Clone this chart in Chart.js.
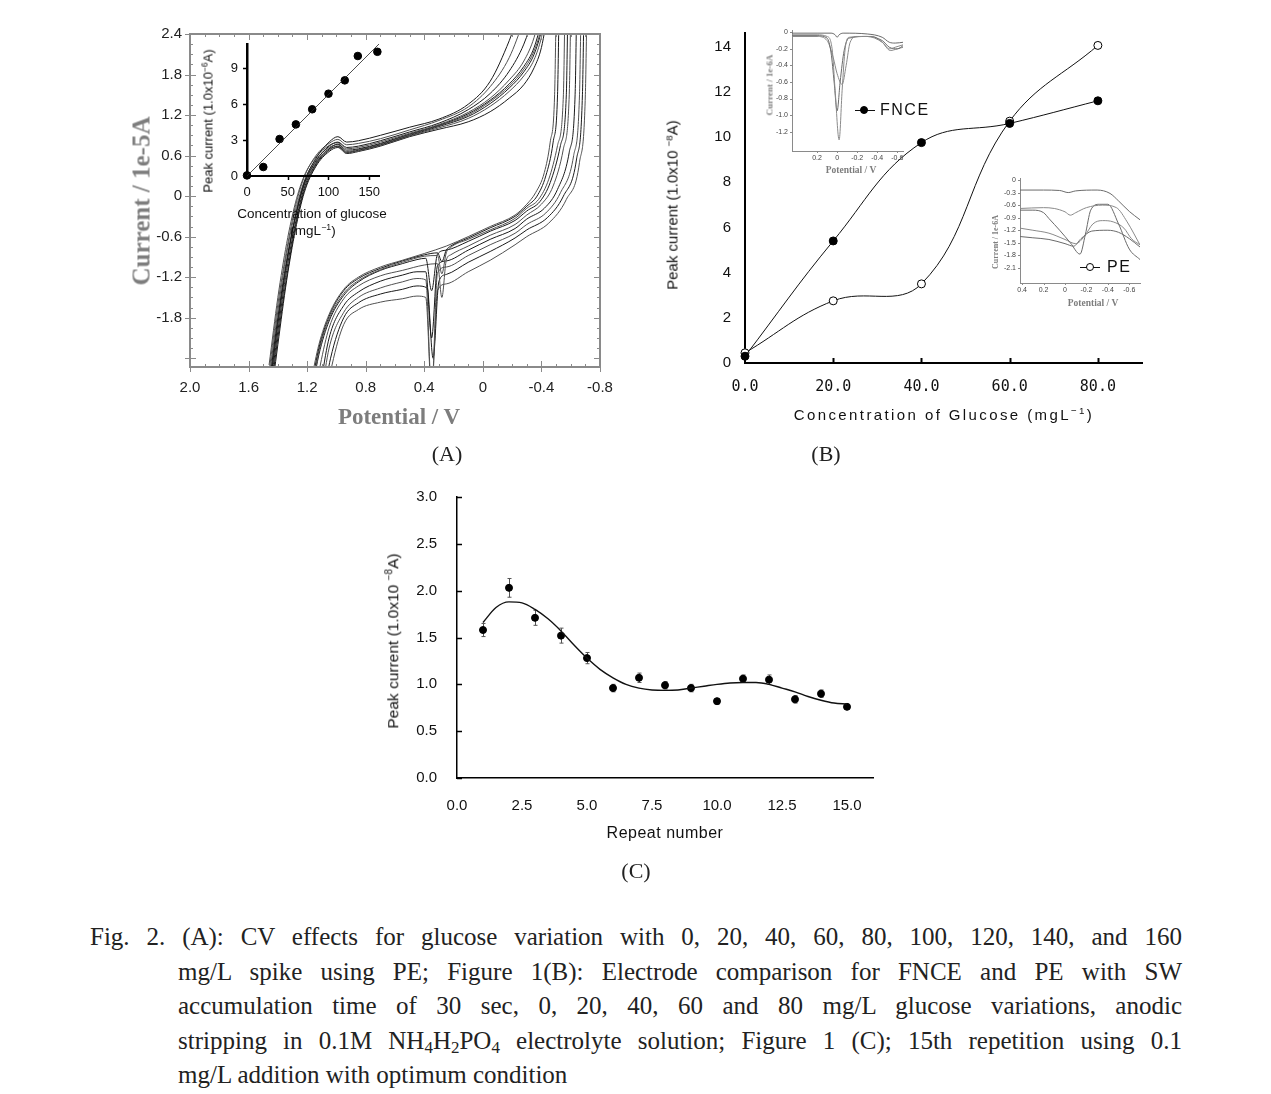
<!DOCTYPE html>
<html>
<head>
<meta charset="utf-8">
<script src="https://cdn.jsdelivr.net/npm/chart.js@4.4.0/dist/chart.umd.min.js"></script>
<style>
body { margin: 0; background: #fff; }
#page { position: relative; width: 1271px; height: 1094px; overflow: hidden; font-family: "Liberation Sans", Arial, sans-serif; color: #111; }
canvas { position: absolute; }
.t { position: absolute; white-space: nowrap; transform: translate(-50%, -50%); line-height: 1; }
.rot { transform: translate(-50%, -50%) rotate(-90deg); }
.ser { font-family: "Liberation Serif", "DejaVu Serif", serif; }
.gray { color: #7d7d7d; font-weight: bold; }
sup { font-size: 0.65em; vertical-align: 0.55em; line-height: 0; }
sub { font-size: 0.68em; vertical-align: -0.25em; line-height: 0; }
.lgLine { position: absolute; height: 0; border-top: 1px solid #111; }
.lgDot { position: absolute; width: 8px; height: 8px; border-radius: 50%; border: 1px solid #000; box-sizing: border-box; }
.lgText { position: absolute; font-size: 16px; letter-spacing: 1.5px; transform: translateY(-50%); line-height: 1; }
#cap { position: absolute; left: 90px; top: 920px; width: 1092px; font-family: "Liberation Serif", "DejaVu Serif", serif; font-size: 25px; line-height: 34.5px; color: #222; }
.ln { text-align: justify; text-align-last: justify; }
.ind { padding-left: 88px; }
.last { text-align-last: left; }
</style>
</head>
<body>
<div id="page">
  <canvas id="chartA" width="520" height="420" style="left:110px;top:10px"></canvas>
  <canvas id="chartAin" width="215" height="180" style="left:180px;top:26px"></canvas>
  <canvas id="chartB" width="510" height="422" style="left:660px;top:8px"></canvas>
  <canvas id="chartBf" width="160" height="150" style="left:750px;top:18px"></canvas>
  <canvas id="chartBp" width="170" height="130" style="left:980px;top:166px"></canvas>
  <canvas id="chartC" width="525" height="375" style="left:370px;top:465px"></canvas>

  <!-- panel A titles -->
  <div class="t rot ser gray" style="left:141px;top:201px;font-size:25px">Current / 1e-5A</div>
  <div class="t ser gray" style="left:399px;top:416px;font-size:23px">Potential / V</div>
  <div class="t rot" style="left:208px;top:121px;font-size:13px">Peak current (1.0x10<sup>−6</sup>A)</div>
  <div class="t" style="left:312px;top:214px;font-size:13.5px">Concentration of glucose</div>
  <div class="t" style="left:313px;top:231px;font-size:13.5px">(mgL<sup>−1</sup>)</div>

  <!-- panel B titles -->
  <div class="t rot" style="left:672px;top:205px;font-size:15px">Peak current (1.0x10 <sup>−8</sup>A)</div>
  <div class="t" style="left:944px;top:414px;font-size:15px;letter-spacing:2.4px">Concentration of Glucose (mgL<sup>−1</sup>)</div>
  <div class="t rot ser gray" style="left:770px;top:85px;font-size:9px">Current / 1e-6A</div>
  <div class="t ser gray" style="left:851px;top:171px;font-size:9.5px">Potential / V</div>
  <div class="t rot ser gray" style="left:996px;top:242px;font-size:8px">Current / 1e-6A</div>
  <div class="t ser gray" style="left:1093px;top:304px;font-size:9.5px">Potential / V</div>

  <!-- panel B legends -->
  <div class="lgLine" style="left:855px;top:110px;width:20px"></div>
  <div class="lgDot" style="left:860px;top:106px;background:#000"></div>
  <div class="lgText" style="left:880px;top:110px">FNCE</div>
  <div class="lgLine" style="left:1080px;top:267px;width:20px"></div>
  <div class="lgDot" style="left:1086px;top:263px;background:#fff"></div>
  <div class="lgText" style="left:1107px;top:267px">PE</div>

  <!-- panel C titles -->
  <div class="t rot" style="left:393px;top:641px;font-size:15.5px">Peak current (1.0x10 <sup>−8</sup>A)</div>
  <div class="t" style="left:665px;top:833px;font-size:16px;letter-spacing:0.5px">Repeat number</div>

  <!-- panel labels -->
  <div class="t ser" style="left:447px;top:454px;font-size:22px;color:#222">(A)</div>
  <div class="t ser" style="left:826px;top:454px;font-size:22px;color:#222">(B)</div>
  <div class="t ser" style="left:636px;top:871px;font-size:22px;color:#222">(C)</div>

  <div id="cap">
    <div class="ln">Fig. 2. (A): CV effects for glucose variation with 0, 20, 40, 60, 80, 100, 120, 140, and 160</div>
    <div class="ln ind">mg/L spike using PE; Figure 1(B): Electrode comparison for FNCE and PE with SW</div>
    <div class="ln ind">accumulation time of 30 sec, 0, 20, 40, 60 and 80 mg/L glucose variations, anodic</div>
    <div class="ln ind">stripping in 0.1M NH<sub>4</sub>H<sub>2</sub>PO<sub>4</sub> electrolyte solution; Figure 1 (C); 15th repetition using 0.1</div>
    <div class="ln ind last">mg/L addition with optimum condition</div>
  </div>
</div>

<script>
// ---------- panel A: cyclic voltammograms (V, 1e-5 A) ----------
// anodic branches share one potential grid
const cvUpV = [1.46, 1.40, 1.34, 1.28, 1.22, 1.14, 1.05, 0.99, 0.93, 0.85, 0.70, 0.50, 0.30, 0.10, -0.05, -0.18, -0.28, -0.35, -0.40, -0.45];
const cvUp0 = [-2.9, -1.9, -1.0, -0.30, 0.20, 0.56, 0.80, 0.88, 0.80, 0.82, 0.90, 1.02, 1.14, 1.36, 1.70, 2.30, 2.9, 3.2, 3.4, 3.6];
const cvUp1 = [-2.6, -1.6, -0.8, -0.15, 0.28, 0.60, 0.78, 0.84, 0.76, 0.78, 0.85, 0.98, 1.12, 1.32, 1.62, 2.05, 2.6, 3.0, 3.3, 3.5];
const cvUp2 = [-2.8, -1.8, -0.95, -0.30, 0.18, 0.52, 0.74, 0.80, 0.72, 0.74, 0.82, 0.95, 1.08, 1.28, 1.52, 1.85, 2.25, 2.7, 3.1, 3.4];
const cvUp3 = [-2.5, -1.5, -0.7, -0.10, 0.30, 0.58, 0.75, 0.79, 0.70, 0.72, 0.80, 0.93, 1.06, 1.24, 1.45, 1.72, 2.0, 2.35, 2.8, 3.3];
const cvUp4 = [-3.0, -2.0, -1.1, -0.40, 0.12, 0.48, 0.70, 0.77, 0.68, 0.70, 0.78, 0.92, 1.05, 1.22, 1.42, 1.66, 1.92, 2.2, 2.6, 3.2];
const cvUp5 = [-2.7, -1.7, -0.85, -0.22, 0.22, 0.54, 0.72, 0.76, 0.66, 0.69, 0.77, 0.91, 1.04, 1.20, 1.40, 1.63, 1.88, 2.15, 2.5, 3.1];
const cvUp6 = [-3.1, -2.1, -1.2, -0.45, 0.08, 0.46, 0.68, 0.74, 0.65, 0.68, 0.76, 0.90, 1.03, 1.18, 1.37, 1.60, 1.84, 2.1, 2.45, 3.0];
const cvUp7 = [-2.9, -1.85, -1.0, -0.32, 0.16, 0.50, 0.70, 0.73, 0.64, 0.67, 0.75, 0.89, 1.01, 1.15, 1.33, 1.55, 1.78, 2.02, 2.35, 2.9];
const cvUp8 = [-3.2, -2.2, -1.25, -0.5, 0.05, 0.44, 0.66, 0.72, 0.63, 0.66, 0.74, 0.88, 0.99, 1.10, 1.25, 1.45, 1.65, 1.9, 2.2, 2.8];

// cathodic branches as [potential, current] pairs (dips differ per curve)
const cvDown0 = [[-0.50, 2.7], [-0.49, 1.5], [-0.46, 0.8], [-0.42, 0.35], [-0.36, 0.05], [-0.30, -0.12], [-0.22, -0.28], [-0.05, -0.45], [0.10, -0.60], [0.25, -0.74], [0.40, -0.85], [0.55, -0.95], [0.70, -1.05], [0.85, -1.20], [0.95, -1.38], [1.05, -1.75], [1.12, -2.2], [1.17, -2.7]];
const cvDown1 = [[-0.52, 2.7], [-0.51, 1.5], [-0.48, 0.8], [-0.43, 0.3], [-0.37, 0.0], [-0.30, -0.15], [-0.22, -0.30], [-0.05, -0.47], [0.10, -0.62], [0.22, -0.74], [0.25, -0.80], [0.28, -0.97], [0.31, -0.84], [0.40, -0.87], [0.55, -0.96], [0.70, -1.07], [0.85, -1.22], [0.95, -1.40], [1.05, -1.78], [1.12, -2.25], [1.17, -2.8]];
const cvDown2 = [[-0.56, 2.7], [-0.55, 1.5], [-0.51, 0.75], [-0.45, 0.25], [-0.38, -0.05], [-0.30, -0.18], [-0.22, -0.33], [-0.05, -0.50], [0.10, -0.64], [0.22, -0.76], [0.25, -0.84], [0.28, -1.15], [0.31, -0.88], [0.40, -0.89], [0.55, -0.98], [0.70, -1.09], [0.85, -1.25], [0.95, -1.44], [1.05, -1.82], [1.12, -2.3], [1.16, -2.8]];
const cvDown3 = [[-0.58, 2.7], [-0.57, 1.5], [-0.53, 0.75], [-0.46, 0.2], [-0.39, -0.08], [-0.30, -0.22], [-0.22, -0.36], [-0.05, -0.52], [0.10, -0.67], [0.25, -0.80], [0.31, -0.86], [0.35, -1.40], [0.39, -0.92], [0.45, -0.94], [0.55, -1.00], [0.70, -1.10], [0.85, -1.27], [0.95, -1.47], [1.05, -1.85], [1.12, -2.35], [1.16, -2.8]];
const cvDown4 = [[-0.60, 2.7], [-0.59, 1.5], [-0.55, 0.7], [-0.48, 0.15], [-0.40, -0.12], [-0.30, -0.28], [-0.22, -0.42], [-0.05, -0.58], [0.10, -0.74], [0.22, -0.87], [0.25, -0.95], [0.28, -1.50], [0.31, -1.0], [0.40, -1.02], [0.55, -1.10], [0.70, -1.18], [0.85, -1.33], [0.95, -1.52], [1.05, -1.95], [1.11, -2.5], [1.15, -3.0]];
const cvDown5 = [[-0.64, 2.7], [-0.63, 1.5], [-0.59, 0.65], [-0.51, 0.1], [-0.42, -0.18], [-0.30, -0.34], [-0.22, -0.48], [-0.05, -0.64], [0.10, -0.80], [0.25, -0.96], [0.31, -1.03], [0.35, -2.10], [0.39, -1.12], [0.45, -1.12], [0.55, -1.17], [0.70, -1.26], [0.85, -1.42], [0.95, -1.62], [1.05, -2.1], [1.10, -2.7], [1.13, -3.2]];
const cvDown6 = [[-0.67, 2.7], [-0.66, 1.5], [-0.62, 0.6], [-0.53, 0.05], [-0.43, -0.25], [-0.30, -0.42], [-0.22, -0.55], [-0.05, -0.72], [0.10, -0.88], [0.25, -1.05], [0.31, -1.14], [0.35, -2.9], [0.39, -1.24], [0.45, -1.22], [0.55, -1.27], [0.70, -1.36], [0.85, -1.50], [0.95, -1.72], [1.05, -2.25], [1.10, -2.9], [1.13, -3.3]];
const cvDown7 = [[-0.69, 2.7], [-0.68, 1.5], [-0.64, 0.55], [-0.55, 0.0], [-0.44, -0.32], [-0.30, -0.5], [-0.22, -0.62], [-0.05, -0.82], [0.10, -0.98], [0.25, -1.16], [0.30, -1.26], [0.34, -2.4], [0.38, -1.36], [0.45, -1.33], [0.55, -1.38], [0.70, -1.45], [0.85, -1.58], [0.95, -1.80], [1.04, -2.4], [1.09, -3.0], [1.12, -3.4]];
const cvDown8 = [[-0.71, 2.7], [-0.70, 1.5], [-0.66, 0.5], [-0.57, -0.05], [-0.45, -0.4], [-0.30, -0.6], [-0.22, -0.72], [-0.05, -0.95], [0.10, -1.12], [0.25, -1.30], [0.31, -1.40], [0.35, -2.9], [0.39, -1.50], [0.45, -1.48], [0.55, -1.52], [0.70, -1.57], [0.85, -1.68], [0.95, -1.90], [1.03, -2.5], [1.08, -3.1], [1.11, -3.5]];

const cvUp = [cvUp0, cvUp1, cvUp2, cvUp3, cvUp4, cvUp5, cvUp6, cvUp7, cvUp8];
const cvDown = [cvDown0, cvDown1, cvDown2, cvDown3, cvDown4, cvDown5, cvDown6, cvDown7, cvDown8];

const aXTicks = [2.0, 1.6, 1.2, 0.8, 0.4, 0, -0.4, -0.8];
const aXLabels = ['2.0', '1.6', '1.2', '0.8', '0.4', '0', '-0.4', '-0.8'];
const aYTicks = [2.4, 1.8, 1.2, 0.6, 0, -0.6, -1.2, -1.8];
const aYLabels = ['2.4', '1.8', '1.2', '0.6', '0', '-0.6', '-1.2', '-1.8'];

// inset of A: peak current vs glucose
const insetConc = [0, 20, 40, 60, 80, 100, 120, 136, 160];
const insetPeak = [0.05, 0.75, 3.08, 4.3, 5.56, 6.86, 7.97, 10.0, 10.35];
const insetFitX = [0, 162];
const insetFitY = [0, 11.0];
const insetXTicks = [0, 50, 100, 150];
const insetYTicks = [0, 3, 6, 9];

// ---------- panel B ----------
const concB = [0, 20, 40, 60, 80];
const fnce = [0.3, 5.4, 9.75, 10.6, 11.6];
const pe = [0.45, 2.75, 3.5, 10.7, 14.05];
const bXTicks = [0, 20, 40, 60, 80];
const bXLabels = ['0.0', '20.0', '40.0', '60.0', '80.0'];
const bYTicks = [0, 2, 4, 6, 8, 10, 12, 14];

// square-wave insets of B
const fnceSw1 = [[0.45, -0.01], [0.2, -0.01], [0.06, -0.01], [0.02, -0.03], [0.0, -0.06], [-0.02, -0.03], [-0.06, -0.01], [-0.3, -0.02], [-0.45, -0.06], [-0.52, -0.12], [-0.58, -0.13], [-0.66, -0.12]];
const fnceSw2 = [[0.45, -0.03], [0.2, -0.03], [0.1, -0.05], [0.05, -0.2], [0.02, -0.7], [-0.02, -1.3], [-0.05, -0.7], [-0.08, -0.2], [-0.12, -0.06], [-0.3, -0.05], [-0.45, -0.12], [-0.52, -0.2], [-0.58, -0.18], [-0.66, -0.15]];
const fnceSw3 = [[0.45, -0.04], [0.2, -0.04], [0.1, -0.07], [0.06, -0.25], [0.03, -0.6], [0.0, -0.95], [-0.03, -0.6], [-0.07, -0.22], [-0.12, -0.07], [-0.3, -0.05], [-0.45, -0.1], [-0.52, -0.18], [-0.6, -0.2], [-0.66, -0.16]];
const fnceSw4 = [[0.45, -0.05], [0.2, -0.05], [0.1, -0.1], [0.04, -0.3], [0.0, -0.5], [-0.05, -0.63], [-0.09, -0.4], [-0.13, -0.12], [-0.2, -0.05], [-0.35, -0.05], [-0.45, -0.12], [-0.53, -0.22], [-0.6, -0.2], [-0.66, -0.18]];
const fnceSwX = [0.2, 0, -0.2, -0.4, -0.6];
const fnceSwXLabels = ['0.2', '0', '-0.2', '-0.4', '-0.6'];
const fnceSwY = [0, -0.2, -0.4, -0.6, -0.8, -1.0, -1.2];
const fnceSwYLabels = ['0', '-0.2', '-0.4', '-0.6', '-0.8', '-1.0', '-1.2'];

const peSw1 = [[0.42, -0.24], [0.2, -0.24], [0.05, -0.25], [-0.03, -0.3], [-0.1, -0.26], [-0.3, -0.24], [-0.42, -0.32], [-0.5, -0.5], [-0.6, -0.75], [-0.7, -0.95]];
const peSw2 = [[0.42, -0.68], [0.2, -0.66], [0.1, -0.68], [0.0, -0.76], [-0.05, -0.84], [-0.1, -0.78], [-0.2, -0.66], [-0.35, -0.6], [-0.48, -0.66], [-0.58, -1.0], [-0.7, -1.55]];
const peSw3 = [[0.42, -0.72], [0.3, -0.72], [0.2, -0.78], [0.15, -0.92], [0.05, -1.2], [-0.05, -1.5], [-0.14, -1.77], [-0.19, -1.3], [-0.24, -0.72], [-0.32, -0.58], [-0.4, -0.58], [-0.5, -1.05], [-0.6, -1.65], [-0.7, -1.9]];
const peSw4 = [[0.42, -1.15], [0.3, -1.2], [0.15, -1.27], [0.0, -1.42], [-0.1, -1.52], [-0.18, -1.35], [-0.26, -1.05], [-0.35, -0.97], [-0.45, -1.0], [-0.55, -1.15], [-0.62, -1.4], [-0.7, -1.55]];
const peSw5 = [[0.42, -1.35], [0.3, -1.38], [0.15, -1.42], [0.0, -1.52], [-0.08, -1.58], [-0.15, -1.4], [-0.25, -1.22], [-0.4, -1.2], [-0.5, -1.25], [-0.6, -1.4], [-0.7, -1.6]];
const peSwX = [0.4, 0.2, 0, -0.2, -0.4, -0.6];
const peSwXLabels = ['0.4', '0.2', '0', '-0.2', '-0.4', '-0.6'];
const peSwY = [0, -0.3, -0.6, -0.9, -1.2, -1.5, -1.8, -2.1];
const peSwYLabels = ['0', '-0.3', '-0.6', '-0.9', '-1.2', '-1.5', '-1.8', '-2.1'];

// ---------- panel C ----------
const repeatNum = [1, 2, 3, 4, 5, 6, 7, 8, 9, 10, 11, 12, 13, 14, 15];
const peakC = [1.58, 2.03, 1.71, 1.52, 1.28, 0.96, 1.07, 0.99, 0.96, 0.82, 1.06, 1.05, 0.84, 0.90, 0.76];
const errC = [0.07, 0.10, 0.08, 0.08, 0.06, 0.04, 0.05, 0.04, 0.04, 0.03, 0.04, 0.05, 0.04, 0.04, 0.02];
const fitCX = [1, 1.5, 2, 2.5, 3, 3.5, 4, 4.5, 5, 5.5, 6, 6.5, 7, 7.5, 8, 8.5, 9, 9.5, 10, 10.5, 11, 11.5, 12, 12.5, 13, 13.5, 14, 14.5, 15];
const fitCY = [1.66, 1.82, 1.88, 1.87, 1.80, 1.70, 1.57, 1.42, 1.28, 1.16, 1.07, 1.00, 0.96, 0.94, 0.935, 0.94, 0.96, 0.98, 1.0, 1.015, 1.02, 1.02, 1.0, 0.96, 0.92, 0.87, 0.83, 0.80, 0.79];
const cXTicks = [0, 2.5, 5, 7.5, 10, 12.5, 15];
const cXLabels = ['0.0', '2.5', '5.0', '7.5', '10.0', '12.5', '15.0'];
const cYTicks = [0, 0.5, 1, 1.5, 2, 2.5, 3];
const cYLabels = ['0.0', '0.5', '1.0', '1.5', '2.0', '2.5', '3.0'];


Chart.defaults.animation = false;
Chart.defaults.plugins.legend.display = false;
Chart.defaults.plugins.tooltip.enabled = false;
Chart.defaults.color = '#111';
Chart.defaults.font.family = '"Liberation Sans", Arial, sans-serif';

// helpers
function fixedTicks(values) {
    return scale => { scale.ticks = values.map(v => ({ value: v })); };
}
function labelsFrom(labels) {
    return (value, i) => labels[i];
}
function pairs(list) {
    return list.map(p => ({ x: p[0], y: p[1] }));
}
function zip(xs, ys) {
    return xs.map((x, i) => ({ x: x, y: ys[i] }));
}
function seg(ctx, x1, y1, x2, y2) {
    ctx.beginPath();
    ctx.moveTo(x1, y1);
    ctx.lineTo(x2, y2);
    ctx.stroke();
}

// small tick marks drawn through the scales; len > 0 points into the plot
const axisTicks = {
    id: 'axisTicks',
    afterDraw(chart, args, opts) {
        if (!opts || !opts.color) return;
        const { ctx, chartArea: a, scales } = chart;
        ctx.save();
        ctx.strokeStyle = opts.color;
        ctx.lineWidth = opts.width || 1;
        (opts.x || []).forEach(v => {
            const px = Math.round(scales.x.getPixelForValue(v)) + 0.5;
            seg(ctx, px, a.bottom, px, a.bottom - opts.len);
        });
        (opts.y || []).forEach(v => {
            const py = Math.round(scales.y.getPixelForValue(v)) + 0.5;
            seg(ctx, a.left, py, a.left + opts.len, py);
        });
        ctx.restore();
    }
};
Chart.register(axisTicks);

// full frame with major and minor ticks for the CV plot
const cvFrame = {
    id: 'cvFrame',
    afterDraw(chart) {
        const { ctx, chartArea: a, scales: { x, y } } = chart;
        ctx.save();
        ctx.strokeStyle = '#8a8a8a';
        ctx.lineWidth = 1;
        for (let k = -8; k <= 20; k++) {
            const px = Math.round(x.getPixelForValue(k / 10)) + 0.5;
            const major = k % 4 === 0;
            const len = major ? 6 : 3;
            seg(ctx, px, a.bottom, px, a.bottom - len);
            seg(ctx, px, a.top, px, a.top + len);
            if (major) seg(ctx, px, a.bottom, px, a.bottom + 5);
        }
        for (let k = -16; k <= 16; k++) {
            const py = Math.round(y.getPixelForValue(k * 0.15)) + 0.5;
            const major = k % 4 === 0;
            const len = major ? 6 : 3;
            seg(ctx, a.left, py, a.left + len, py);
            seg(ctx, a.right, py, a.right - len, py);
            if (major) seg(ctx, a.left - 5, py, a.left, py);
        }
        ctx.lineWidth = 2;
        ctx.strokeRect(a.left, a.top, a.right - a.left, a.bottom - a.top);
        ctx.restore();
    }
};

// error bars for panel C
const errorBars = {
    id: 'errorBars',
    beforeDatasetsDraw(chart) {
        const { ctx, scales: { x, y } } = chart;
        ctx.save();
        ctx.strokeStyle = '#555';
        ctx.lineWidth = 1;
        repeatNum.forEach((n, i) => {
            const px = Math.round(x.getPixelForValue(n)) + 0.5;
            const top = y.getPixelForValue(peakC[i] + errC[i]);
            const bot = y.getPixelForValue(peakC[i] - errC[i]);
            seg(ctx, px, top, px, bot);
            seg(ctx, px - 2, top, px + 2, top);
            seg(ctx, px - 2, bot, px + 2, bot);
        });
        ctx.restore();
    }
};

function hidden() {
    return { grid: { display: false, drawTicks: false }, border: { display: false } };
}

// ---------- chart A ----------
const cvSets = [];
cvUp.forEach((vals, i) => {
    cvSets.push({
        data: zip(cvUpV, vals), showLine: true, pointRadius: 0, borderWidth: 1,
        borderColor: i % 2 ? '#505050' : '#1a1a1a', cubicInterpolationMode: 'monotone'
    });
});
cvDown.forEach((list, i) => {
    cvSets.push({
        data: pairs(list), showLine: true, pointRadius: 0, borderWidth: 1,
        borderColor: i % 2 ? '#1a1a1a' : '#505050', cubicInterpolationMode: 'monotone'
    });
});

const aTickFont = { family: '"Liberation Sans Narrow", "Liberation Sans", sans-serif', size: 15 };
new Chart(document.getElementById('chartA'), {
    type: 'scatter',
    data: { datasets: cvSets },
    options: {
        responsive: false,
        layout: { padding: { top: 24, right: 30, left: 0, bottom: 0 } },
        scales: {
            x: Object.assign(hidden(), {
                type: 'linear', reverse: true, min: -0.8, max: 2.0,
                afterBuildTicks: fixedTicks(aXTicks),
                afterFit: s => { s.height = 63; },
                ticks: { callback: labelsFrom(aXLabels), padding: 12, autoSkip: false, maxRotation: 0, font: aTickFont, color: '#222' }
            }),
            y: Object.assign(hidden(), {
                type: 'linear', min: -2.53, max: 2.4,
                afterBuildTicks: fixedTicks(aYTicks),
                afterFit: s => { s.width = 80; },
                ticks: { callback: labelsFrom(aYLabels), padding: 8, autoSkip: false, font: aTickFont, color: '#222' }
            })
        }
    },
    plugins: [cvFrame]
});

// ---------- inset of A ----------
new Chart(document.getElementById('chartAin'), {
    type: 'scatter',
    data: {
        datasets: [
            { data: zip(insetFitX, insetFitY), showLine: true, pointRadius: 0, borderWidth: 0.8, borderColor: '#222', clip: false },
            { data: zip(insetConc, insetPeak), pointRadius: 3.8, pointBackgroundColor: '#000', pointBorderColor: '#000', clip: false }
        ]
    },
    options: {
        responsive: false,
        layout: { padding: { top: 18, right: 16, left: 0, bottom: 0 } },
        scales: {
            x: {
                type: 'linear', min: 0, max: 162,
                afterBuildTicks: fixedTicks(insetXTicks),
                afterFit: s => { s.height = 30; },
                grid: { display: false, drawTicks: false },
                border: { color: '#000', width: 2 },
                ticks: { padding: 9, autoSkip: false, maxRotation: 0, font: { size: 13 } }
            },
            y: {
                type: 'linear', min: 0, max: 11,
                afterBuildTicks: fixedTicks(insetYTicks),
                afterFit: s => { s.width = 67; },
                grid: { display: false, drawTicks: false },
                border: { color: '#000', width: 2.5 },
                ticks: { padding: 9, autoSkip: false, font: { size: 13 } }
            }
        },
        plugins: { axisTicks: { color: '#000', width: 1.5, len: -4, x: [50, 100, 150], y: [3, 6, 9] } }
    }
});

// ---------- chart B ----------
new Chart(document.getElementById('chartB'), {
    type: 'scatter',
    data: {
        datasets: [
            { data: zip(concB, fnce), showLine: true, tension: 0.4, borderWidth: 1, borderColor: '#111', clip: false,
              pointRadius: 4, pointBackgroundColor: '#000', pointBorderColor: '#000' },
            { data: zip(concB, pe), showLine: true, tension: 0.4, borderWidth: 1, borderColor: '#111', clip: false,
              pointRadius: 4, pointBackgroundColor: '#fff', pointBorderColor: '#000', pointBorderWidth: 1 }
        ]
    },
    options: {
        responsive: false,
        layout: { padding: { top: 25, right: 28, left: 0, bottom: 0 } },
        scales: {
            x: {
                type: 'linear', min: 0, max: 90,
                afterBuildTicks: fixedTicks(bXTicks),
                afterFit: s => { s.height = 67; },
                grid: { display: false, drawTicks: false },
                border: { color: '#000', width: 2 },
                ticks: { callback: labelsFrom(bXLabels), padding: 15, autoSkip: false, maxRotation: 0,
                         font: { family: '"DejaVu Sans Mono", monospace', size: 15 } }
            },
            y: {
                type: 'linear', min: 0, max: 14.6,
                afterBuildTicks: fixedTicks(bYTicks),
                afterFit: s => { s.width = 85; },
                grid: { display: false, drawTicks: false },
                border: { color: '#000', width: 2 },
                ticks: { padding: 14, autoSkip: false, font: { size: 15 } }
            }
        },
        plugins: { axisTicks: { color: '#000', width: 2, len: 5, x: [20, 40, 60, 80] } }
    }
});

// ---------- insets of B ----------
const swFont = { family: '"Liberation Sans", Arial, sans-serif', size: 7 };
function swChart(id, curves, xr, yr, xt, xl, yt, yl, pad, yw, xh) {
    new Chart(document.getElementById(id), {
        type: 'scatter',
        data: {
            datasets: curves.map((c, i) => ({
                data: pairs(c), showLine: true, pointRadius: 0, borderWidth: 1,
                borderColor: i % 2 ? '#8a8a8a' : '#6a6a6a', cubicInterpolationMode: 'monotone'
            }))
        },
        options: {
            responsive: false,
            layout: { padding: pad },
            scales: {
                x: {
                    type: 'linear', reverse: true, min: xr[0], max: xr[1],
                    afterBuildTicks: fixedTicks(xt),
                    afterFit: s => { s.height = xh; },
                    grid: { display: false, drawTicks: false },
                    border: { color: '#8a8a8a', width: 1 },
                    ticks: { callback: labelsFrom(xl), padding: 3, autoSkip: false, maxRotation: 0, font: swFont, color: '#444' }
                },
                y: {
                    type: 'linear', min: yr[0], max: yr[1],
                    afterBuildTicks: fixedTicks(yt),
                    afterFit: s => { s.width = yw; },
                    grid: { display: false, drawTicks: false },
                    border: { color: '#8a8a8a', width: 1 },
                    ticks: { callback: labelsFrom(yl), padding: 4, autoSkip: false, font: swFont, color: '#444' }
                }
            },
            plugins: { axisTicks: { color: '#8a8a8a', width: 1, len: -2, x: xt, y: yt } }
        }
    });
}
swChart('chartBf', [fnceSw1, fnceSw2, fnceSw3, fnceSw4], [-0.657, 0.45], [-1.434, 0.028],
    fnceSwX, fnceSwXLabels, fnceSwY, fnceSwYLabels, { top: 12, right: 7, left: 0, bottom: 0 }, 42, 17);
swChart('chartBp', [peSw1, peSw2, peSw3, peSw4, peSw5], [-0.70, 0.42], [-2.46, 0.048],
    peSwX, peSwXLabels, peSwY, peSwYLabels, { top: 12, right: 10, left: 0, bottom: 0 }, 40, 13);

// ---------- chart C ----------
new Chart(document.getElementById('chartC'), {
    type: 'scatter',
    data: {
        datasets: [
            { data: zip(fitCX, fitCY), showLine: true, pointRadius: 0, borderWidth: 1.4, borderColor: '#111',
              cubicInterpolationMode: 'monotone' },
            { data: zip(repeatNum, peakC), pointRadius: 3.5, pointBackgroundColor: '#000', pointBorderColor: '#000', clip: false }
        ]
    },
    options: {
        responsive: false,
        layout: { padding: { top: 32, right: 22, left: 0, bottom: 0 } },
        scales: {
            x: {
                type: 'linear', min: 0, max: 16,
                afterBuildTicks: fixedTicks(cXTicks),
                afterFit: s => { s.height = 62; },
                grid: { display: false, drawTicks: false },
                border: { color: '#000', width: 1.5 },
                ticks: { callback: labelsFrom(cXLabels), padding: 19, autoSkip: false, maxRotation: 0, font: { size: 15 } }
            },
            y: {
                type: 'linear', min: 0, max: 3,
                afterBuildTicks: fixedTicks(cYTicks),
                afterFit: s => { s.width = 87; },
                grid: { display: false, drawTicks: false },
                border: { color: '#000', width: 1.5 },
                ticks: { callback: labelsFrom(cYLabels), padding: 20, autoSkip: false, font: { size: 15 } }
            }
        },
        plugins: { axisTicks: { color: '#000', width: 1.5, len: 5, y: cYTicks } }
    },
    plugins: [errorBars]
});
</script>
</body>
</html>
